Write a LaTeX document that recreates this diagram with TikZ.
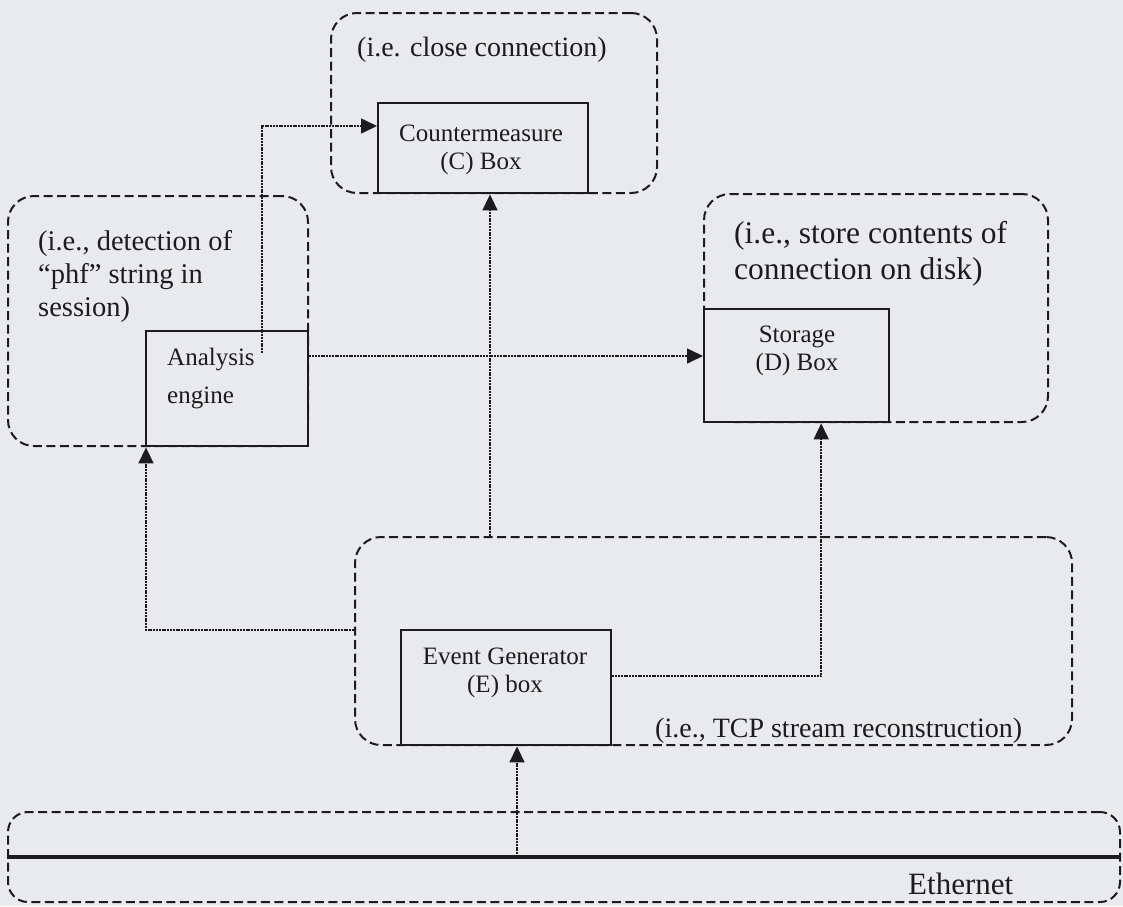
\documentclass[tikz,border=0pt]{standalone}
\usepackage{fontspec}
\setmainfont{Liberation Serif}
\usetikzlibrary{arrows.meta}
\definecolor{bgcol}{RGB}{233,234,236}
\definecolor{inkcol}{RGB}{28,28,30}
\begin{document}
\begin{tikzpicture}[x=1pt,y=-1pt,
  region/.style={draw=inkcol, line width=2pt, dash pattern=on 9pt off 4.5pt,
    rounded corners=26pt, inner sep=0pt, anchor=north west},
  boxnode/.style={draw=inkcol, line width=2.4pt, fill=bgcol, inner sep=0pt, anchor=north west},
  conn/.style={draw=inkcol, line width=1.6pt, dash pattern=on 2pt off 0.8pt,
    -{Triangle[length=16pt,width=15pt]}},
  boxtext/.style={text=inkcol, inner sep=0pt, align=center, font=\fontsize{25}{28}\selectfont},
  labeltext/.style={text=inkcol, inner sep=0pt, align=left, anchor=west, font=\fontsize{28}{33}\selectfont}]
\fill[bgcol] (0,0) rectangle (1123,906);
\useasboundingbox (0,0) rectangle (1123,906);
% dashed regions
\node[region, minimum width=326pt, minimum height=180pt] (Creg) at (330,12) {};
\node[region, minimum width=300pt, minimum height=250pt] (Areg) at (7,195) {};
\node[region, minimum width=344pt, minimum height=228pt] (Dreg) at (703,193) {};
\node[region, minimum width=717pt, minimum height=208pt] (Ereg) at (354,536) {};
\node[region, minimum width=1112pt, minimum height=90pt, rounded corners=20pt] (Ethreg) at (7,811) {};
% boxes
\node[boxnode, minimum width=210pt, minimum height=90pt] (Cbox) at (377,102) {};
\node[boxnode, minimum width=162pt, minimum height=115pt] (Abox) at (145,330) {};
\node[boxnode, minimum width=185pt, minimum height=113pt] (Dbox) at (703,308) {};
\node[boxnode, minimum width=210pt, minimum height=115pt] (Ebox) at (400,629) {};
% box texts
\node[boxtext] (Ctext) at (481,150) {Countermeasure\\(C) Box};
\node[boxtext, align=left, anchor=west, font=\fontsize{25}{38}\selectfont] (Atext) at (167,379) {Analysis\\engine};
\node[boxtext] (Dtext) at (797,351) {Storage\\(D) Box};
\node[boxtext] (Etext) at (505,673) {Event Generator\\(E) box};
% labels
\node[labeltext] (Clabel) at (357,50) {(i.e. close connection)};
\node[labeltext, font=\fontsize{28.5}{33}\selectfont] (Alabel) at (38,276) {(i.e., detection of\\“phf” string in\\session)};
\node[labeltext, font=\fontsize{31.5}{36}\selectfont] (Dlabel) at (734,254) {(i.e., store contents of\\connection on disk)};
\node[labeltext] (Elabel) at (655,731) {(i.e., TCP stream reconstruction)};
\node[labeltext, font=\fontsize{31}{36}\selectfont] (Ethlabel) at (908,884) {Ethernet};
% Ethernet line
\draw[draw=inkcol, line width=4pt] (Ethreg.west) -- (Ethreg.east);
% connectors
\coordinate (aStart) at (262,353);
\coordinate (cIn) at ([yshift=-24pt]Cbox.north west);
\draw[conn] (aStart) |- (cIn);
\coordinate (dIn) at ([yshift=-48pt]Dbox.north west);
\draw[conn] (Abox.east |- dIn) -- (dIn);
\coordinate (eTop) at (490,536);
\draw[conn] (eTop) -- (eTop |- Cbox.south);
\coordinate (eLeft) at (354,630);
\draw[conn] (eLeft) -| ([xshift=1pt]Abox.south west);
\coordinate (dBot) at ([xshift=24.5pt]Dbox.south);
\draw[conn] ([yshift=11.5pt]Ebox.east) -| (dBot);
\coordinate (tap) at (517,857);
\draw[conn] (tap) -- (tap |- Ebox.south);
\end{tikzpicture}
\end{document}
